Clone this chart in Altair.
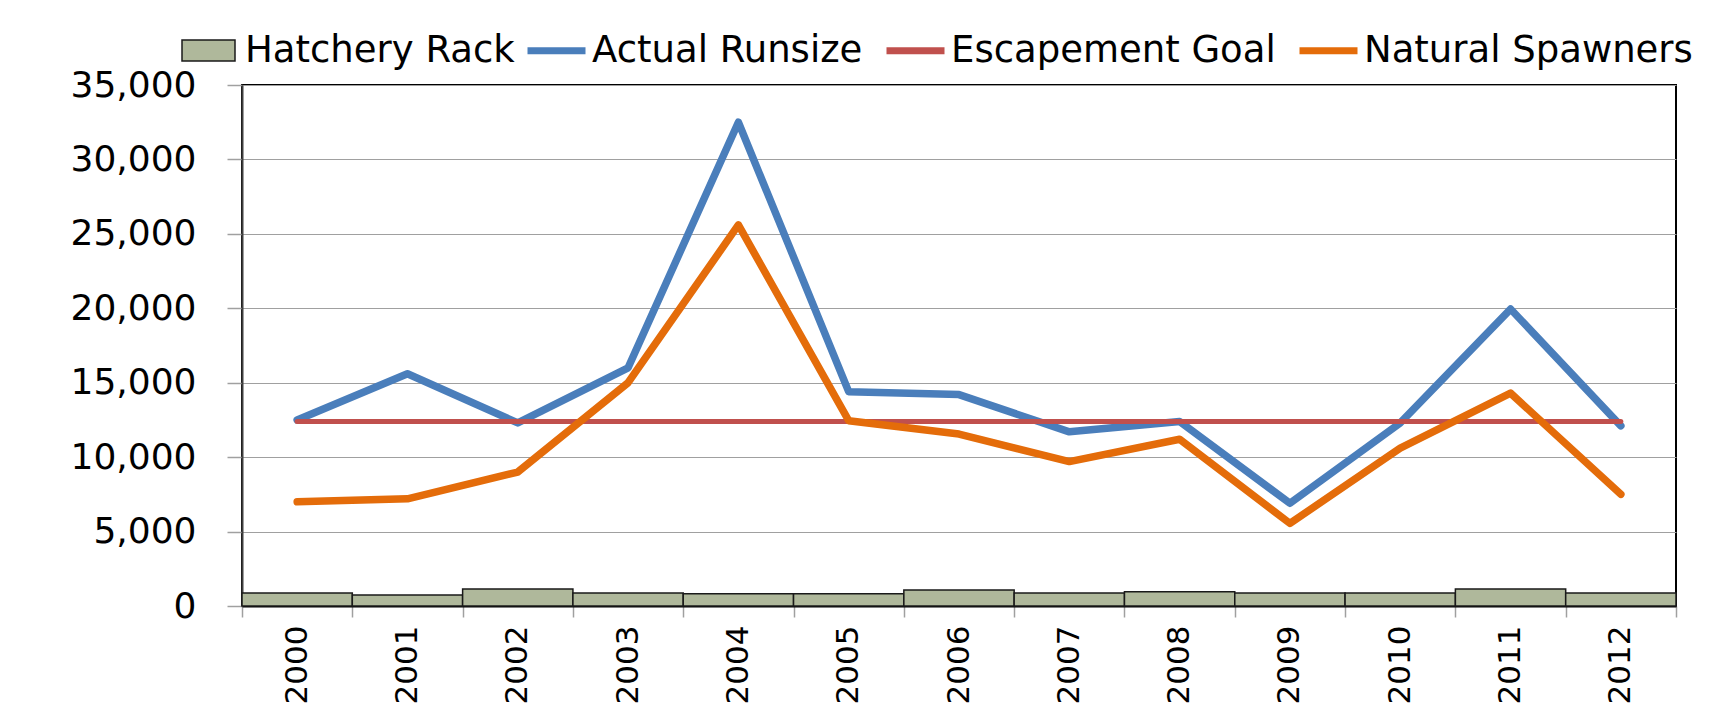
import altair as alt
import pandas as pd

years = ["2000", "2001", "2002", "2003", "2004", "2005", "2006",
         "2007", "2008", "2009", "2010", "2011", "2012"]
hatchery_rack = [870, 740, 1140, 870, 830, 830, 1075, 875, 965, 870, 870, 1140, 870]
actual_runsize = [12500, 15600, 12300, 16000, 32500, 14400, 14200,
                  11700, 12400, 6900, 12300, 19950, 12100]
escapement_goal = [12400, 12400, 12400, 12400, 12400, 12400, 12400,
                   12400, 12400, 12400, 12400, 12400, 12400]
natural_spawners = [7000, 7200, 9000, 15000, 25600, 12450, 11550,
                    9700, 11200, 5550, 10600, 14300, 7500]

line_series = ["Actual Runsize", "Escapement Goal", "Natural Spawners"]
line_colors = ["#4A7EBB", "#C0504D", "#E46C0A"]
line_widths = [7.5, 5, 7.5]

FONT = "DejaVu Sans"

bars_df = pd.DataFrame({"Year": years, "Count": hatchery_rack,
                        "Series": ["Hatchery Rack"] * len(years)})
rows = []
for name, vals in zip(line_series, [actual_runsize, escapement_goal, natural_spawners]):
    for y, v in zip(years, vals):
        rows.append({"Year": y, "Count": v, "Series": name})
lines_df = pd.DataFrame(rows)

x_axis = alt.Axis(title=None, labelAngle=-90, labelFont=FONT, labelFontSize=31,
                  labelColor="black", tickBand="extent", tickSize=11,
                  tickColor="#A0A0A0", tickWidth=1.5, domainColor="black",
                  domainWidth=2, labelPadding=8, grid=False)
y_axis = alt.Axis(title=None, values=[0, 5000, 10000, 15000, 20000, 25000, 30000, 35000],
                  format=",.0f", labelFont=FONT, labelFontSize=36, labelColor="black",
                  tickSize=15, tickColor="#A0A0A0", tickWidth=1.5, labelPadding=31,
                  grid=True, gridColor="#A0A0A0", gridWidth=1.2,
                  domainColor="#404040", domainWidth=2)

x_enc = alt.X("Year:N", sort=years, axis=x_axis,
              scale=alt.Scale(paddingInner=0, paddingOuter=0))
y_enc = alt.Y("Count:Q", axis=y_axis,
              scale=alt.Scale(domain=[0, 35000], nice=False))

bars = alt.Chart(bars_df).mark_bar(stroke="#1a1a1a", strokeWidth=1.5).encode(
    x=x_enc, y=y_enc,
    fill=alt.Fill("Series:N",
                  scale=alt.Scale(domain=["Hatchery Rack"], range=["#AFB89B"]),
                  legend=alt.Legend(title=None, orient="none", legendX=-61, legendY=-62,
                                    symbolType="M-1,-0.4H1V0.4H-1Z", symbolSize=2809,
                                    symbolStrokeColor="#1a1a1a", symbolStrokeWidth=1.5,
                                    labelFont=FONT, labelFontSize=37, labelColor="black",
                                    labelOffset=9, labelLimit=600)),
)

stroke_legend = alt.Legend(title=None, orient="none", direction="horizontal",
                           legendX=282, legendY=-67, symbolType="stroke",
                           symbolSize=3364, symbolStrokeWidth=7,
                           labelFont=FONT, labelFontSize=37, labelColor="black",
                           labelOffset=3, columnPadding=9, labelLimit=600)

layers = [bars]
for name, w in zip(line_series, line_widths):
    layers.append(
        alt.Chart(lines_df).transform_filter(alt.datum.Series == name)
        .mark_line(strokeCap="round", strokeJoin="round")
        .encode(x=x_enc, y=y_enc,
                strokeWidth=alt.value(w),
                stroke=alt.Stroke("Series:N",
                                  scale=alt.Scale(domain=line_series, range=line_colors),
                                  legend=stroke_legend))
    )

chart = alt.layer(*layers).properties(
    width=1434, height=521,
    autosize=alt.AutoSizeParams(type="none"),
    padding={"left": 234, "top": 77, "right": 45, "bottom": 103},
    background="white",
).configure_view(stroke="black", strokeWidth=2)

chart.save("out.html", embed_options={"renderer": "svg", "actions": False})
